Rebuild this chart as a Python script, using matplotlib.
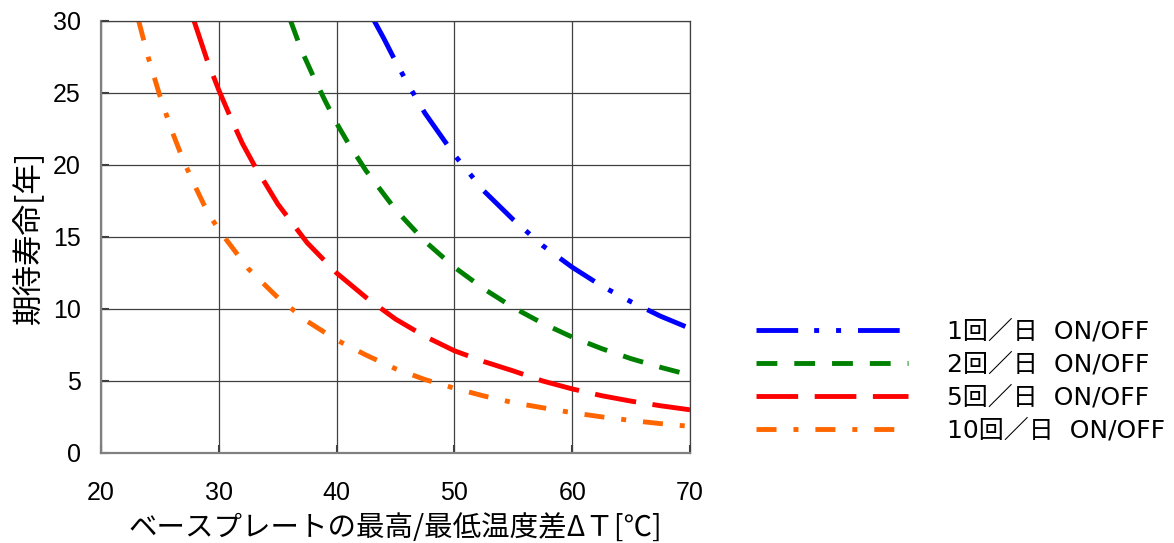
import matplotlib
matplotlib.use("Agg")
import matplotlib.pyplot as plt
from matplotlib import font_manager as fm

plt.rcParams['lines.scale_dashes'] = False

names = {f.name for f in fm.fontManager.ttflist}
NUM_FONT = 'Liberation Sans Narrow' if 'Liberation Sans Narrow' in names else 'Liberation Sans'
JP = ['Noto Sans CJK JP', 'DejaVu Sans']
plt.rcParams['font.family'] = JP

# ---- data ----
x_1 = [43.2, 44, 45, 46, 47.5, 50, 52.5, 55, 57.5, 60, 62.5, 65, 67.5, 70]
y_1 = [30, 28.8, 27.2, 25.7, 23.6, 20.7, 18.2, 16.2, 14.4, 12.9, 11.6, 10.5, 9.5, 8.65]

x_2 = [36.1, 37, 38, 39, 40, 41, 42.5, 45, 47.5, 50, 52.5, 55, 57.5, 60, 62.5, 65, 67.5, 70]
y_2 = [30, 28.0, 26.2, 24.5, 22.9, 21.5, 19.6, 16.9, 14.7, 12.9, 11.4, 10.1, 9.0, 8.05, 7.25, 6.55, 5.95, 5.41]

x_5 = [27.9, 29, 30, 31, 32, 33, 35, 37.5, 40, 42.5, 45, 47.5, 50, 52.5, 55, 57.5, 60, 62.5, 65, 67.5, 70]
y_5 = [30, 27.3, 25.2, 23.3, 21.5, 20.0, 17.3, 14.6, 12.5, 10.8, 9.3, 8.1, 7.1, 6.35, 5.7, 5.0, 4.45, 3.98, 3.6, 3.28, 3.0]

x_10 = [23.2, 24, 25, 26, 27, 28, 29, 30, 32.5, 35, 37.5, 40, 42.5, 45, 47.5, 50, 52.5, 55, 57.5, 60, 62.5, 65, 67.5, 70]
y_10 = [30, 27.5, 24.8, 22.4, 20.3, 18.5, 16.8, 15.5, 12.8, 10.8, 9.15, 7.85, 6.8, 5.85, 5.1, 4.5, 3.96, 3.5, 3.14, 2.8, 2.51, 2.26, 2.04, 1.85]

labels = ['1回／日  ON/OFF', '2回／日  ON/OFF', '5回／日  ON/OFF', '10回／日  ON/OFF']
colors = ['#0000FF', '#008000', '#FF0000', '#FF6600']
dashes = [(30, 11.5, 3.6, 12.2, 3.6, 12.2), (15, 12.2), (30, 11.9), (14.4, 12.2, 3.6, 12.2)]

x_ticks = [20, 30, 40, 50, 60, 70]
y_ticks = [0, 5, 10, 15, 20, 25, 30]

fig = plt.figure(figsize=(11.74, 5.43), dpi=100)
ax = fig.add_axes([101/1174, 1 - 453/543, 589/1174, 432/543])

series = [(x_1, y_1), (x_2, y_2), (x_5, y_5), (x_10, y_10)]
for (xs, ys), lab, c, d in zip(series, labels, colors, dashes):
    ax.plot(xs, ys, color=c, lw=3.5, dashes=d, dash_capstyle='butt', label=lab)

ax.set_xlim(20, 70)
ax.set_ylim(0, 30)
ax.set_xticks(x_ticks)
ax.set_yticks(y_ticks)
ax.grid(True, color='#404040', lw=0.9)
ax.set_axisbelow(True)
for s in ['top', 'right']:
    ax.spines[s].set_color('#404040')
    ax.spines[s].set_linewidth(0.9)
for s in ['left', 'bottom']:
    ax.spines[s].set_color('#808080')
    ax.spines[s].set_linewidth(1.6)
ax.tick_params(direction='in', length=6, width=1.5, color='#404040')
ax.tick_params(axis='x', pad=20.5)
ax.tick_params(axis='y', pad=14.5)
for t in ax.get_xticklabels() + ax.get_yticklabels():
    t.set_fontfamily(NUM_FONT)
    t.set_fontsize(18)

ax.set_xlabel('ベースプレートの最高/最低温度差ΔＴ[℃]', fontsize=20.5, labelpad=6)
ax.set_ylabel('期待寿命[年]', fontsize=22, labelpad=6)

leg = ax.legend(loc='center left', bbox_to_anchor=(756/1174, 1 - 381/543),
                bbox_transform=fig.transFigure, frameon=False, fontsize=18,
                handlelength=152/25.0, handletextpad=1.55, labelspacing=0.36,
                borderpad=0, borderaxespad=0)
for t in leg.get_texts():
    t.set_fontfamily(['DejaVu Sans', 'Noto Sans CJK JP'])

fig.savefig('out.png', dpi=100)
